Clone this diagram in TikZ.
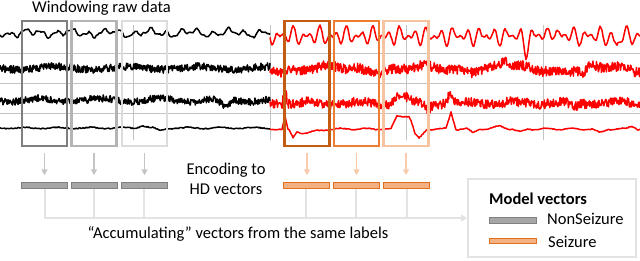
\documentclass[tikz,border=0pt]{standalone}
\usepackage{fontspec}
\setmainfont{Carlito}
\usetikzlibrary{arrows.meta,positioning}
\definecolor{GridGray}  {HTML}{C3C3C3}
\definecolor{WinDark}   {HTML}{7F7F7F}
\definecolor{WinMid}    {HTML}{B4B4B4}
\definecolor{WinLight}  {HTML}{DCDCDC}
\definecolor{SzDark}    {HTML}{C55A11}
\definecolor{SzMid}     {HTML}{ED7D31}
\definecolor{SzLight}   {HTML}{F6C3A0}
\definecolor{ArrGray}   {HTML}{C4C4C4}
\definecolor{ArrOrange} {HTML}{F8CBAD}
\definecolor{BarGray}   {HTML}{A6A6A6}
\definecolor{BarGrayD}  {HTML}{808080}
\definecolor{BarOrange} {HTML}{F4B183}
\definecolor{BarOrangeD}{HTML}{E2711D}
\definecolor{AccGray}   {HTML}{E3E3E3}
\definecolor{SigRed}    {HTML}{FF0000}

\begin{document}
\begin{tikzpicture}[x=1pt,y=-1pt,font=\fontsize{16.5}{20}\selectfont,
    win/.style={draw=#1,line width=2.5pt,minimum width=45pt,minimum height=125pt,inner sep=0pt},
    hdbar/.style={fill=Bar#1,draw=Bar#1D,line width=1pt,minimum width=46pt,minimum height=5.5pt,inner sep=0pt},
    enc/.style={-{Triangle[width=6pt,length=6pt]},line width=1.5pt,color=#1,shorten <=6pt,shorten >=7pt},
    acc/.style={line width=2pt,color=AccGray},
    sig/.style={line width=1.5pt,line join=round},
    gridline/.style={line width=0.9pt,color=GridGray}]
  \useasboundingbox (0,0) rectangle (640,260);
  \foreach \gy in {53,83,113} \draw[gridline] (0,\gy) -- (640,\gy);
  \foreach \gx in {133,270,406,543} \draw[gridline] (\gx,25) -- (\gx,140);

  \pgfmathsetseed{11}
  \draw[sig] plot[domain=0:270,samples=271] (\x,{33+2*sin(9*\x)+2.5*sin(23*\x+50)+1.2*sin(47*\x)+0.7*rand});
  \draw[sig,SigRed] plot[domain=270:640,samples=371] (\x,{36+5*sin(27*(\x-270))+4*sin(41*(\x-270)+30)+1.5*sin(13*(\x-270))+0.8*rand+13*max(0,1-abs((\x-526)/5))-8*max(0,1-abs((\x-553)/5))+11*max(0,1-abs((\x-617)/5))});
  \draw[sig] plot[domain=0:270,samples=540] (\x,{68+1.5*sin(5*\x)+3.8*rand});
  \draw[sig,SigRed] plot[domain=270:640,samples=740] (\x,{69+2.5*sin(4*(\x-270)+20)+1.5*sin(11*(\x-270))+5*rand-7*max(0,1-abs((\x-505)/12))+7*max(0,1-abs((\x-583)/6))});
  \draw[sig] plot[domain=0:270,samples=540] (\x,{100+1.8*sin(6*\x+30)+3.6*rand+8*max(0,1-abs((\x-225)/10))});
  \draw[sig,SigRed] plot[domain=270:640,samples=740] (\x,{103+1.5*sin(7*(\x-270))+4.8*rand-15*max(0,1-abs((\x-285)/3))-9*max(0,1-abs((\x-401)/12))+6*max(0,1-abs((\x-428)/6))-12*max(0,1-abs((\x-450)/4))+5*max(0,1-abs((\x-573)/8))});
  \draw[sig] plot[domain=0:270,samples=271] (\x,{128+0.7*sin(11*\x)+0.5*rand-2.5*max(0,1-abs((\x-143)/8))+3*max(0,1-abs((\x-160)/7))});
  \draw[sig,SigRed] plot[domain=270:640,samples=371] (\x,{129+0.8*sin(14*(\x-270))+0.4*rand-13*max(0,1-abs((\x-285)/3))+7*max(0,1-abs((\x-293)/4))+4*max(0,1-abs((\x-305)/25))-13*min(1,2*max(0,1-abs((\x-403)/12)))+10*max(0,1-abs((\x-419)/8))-17*max(0,1-abs((\x-451)/5))+4*max(0,1-abs((\x-473)/6))-3*max(0,1-abs((\x-500)/10))+3*max(0,1-abs((\x-520)/8))+4*max(0,1-abs((\x-600)/8))-3*max(0,1-abs((\x-632)/6))});

  \node[anchor=base] (title) at (101.5,12.5) {Windowing raw data};
  \node[win=WinDark]  (w1) at (44.5,83.5) {};
  \node[win=WinMid]   (w2) at (94,83.5) {};
  \node[win=WinLight] (w3) at (144.5,83.5) {};
  \node[win=SzDark]   (w4) at (307,83.5) {};
  \node[win=SzMid]    (w5) at (356.5,83.5) {};
  \node[win=SzLight]  (w6) at (406,83.5) {};

  \node[hdbar=Gray]   (v1) at (44.5,185.5) {};
  \node[hdbar=Gray]   (v2) at (94,185.5) {};
  \node[hdbar=Gray]   (v3) at (144,185.5) {};
  \node[hdbar=Orange] (v4) at (306,185.5) {};
  \node[hdbar=Orange] (v5) at (356,185.5) {};
  \node[hdbar=Orange] (v6) at (406.5,185.5) {};
  \foreach \i in {1,2,3} \draw[enc=ArrGray] (w\i.south) -- (w\i.south |- v\i.north);
  \foreach \i in {4,5,6} \draw[enc=ArrOrange] (w\i.south) -- (w\i.south |- v\i.north);
  \node[align=center] (encode) at (226,179) {Encoding to\\HD vectors};

  \node[draw=AccGray,line width=2pt,minimum width=168pt,minimum height=78pt] (legend) at (552,218) {};
  \draw[acc,-{Triangle[width=7pt,length=6pt]}] (v1.south) |- (legend.west);
  \foreach \i in {2,...,6} \draw[acc] (v\i.south) -- (v\i.south |- legend.west);
  \node[anchor=base] (acclabel) at (238,238) {``Accumulating'' vectors from the same labels};

  \node[anchor=base west,inner sep=0pt] (mtitle) at (489,204) {\textbf{Model vectors}};
  \node[hdbar=Gray,minimum width=47pt]   (kns) at (513,220.5) {};
  \node[hdbar=Orange,minimum width=47pt] (ksz) at (513,241) {};
  \node[anchor=base west,inner sep=0pt] (lns) at (547,224) {NonSeizure};
  \node[anchor=base west,inner sep=0pt] (lsz) at (548,247) {Seizure};
\end{tikzpicture}
\end{document}
